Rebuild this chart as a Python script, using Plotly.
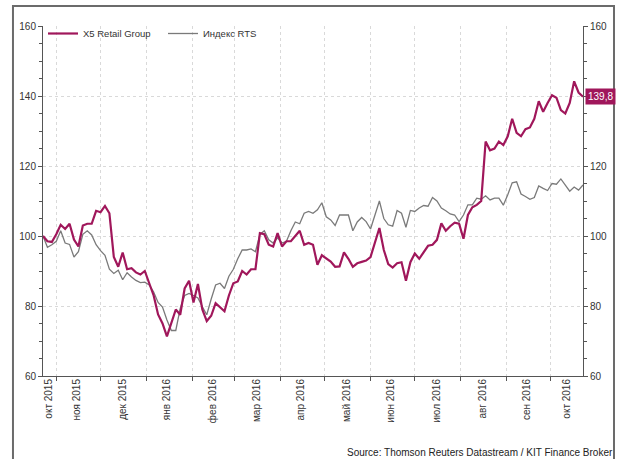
import pandas as pd
import plotly.graph_objects as go

# ---- data ----
dates = pd.date_range("2015-10-23", periods=123, freq="3D")

x5_retail = [
    100, 98.5, 98.3, 100.5, 103.2, 102.0, 103.5, 99.0, 97.0, 103.0,
    103.5, 103.5, 107.2, 106.8, 108.6, 106.5, 94, 91.2, 95.3, 90.5,
    90.8, 89.6, 89.0, 90.0, 86.5, 83, 77.6, 75, 71.3, 75,
    79, 77.5, 85, 87.2, 81, 86.3, 79, 75.7, 77.2, 80.8,
    79.5, 78.5, 83, 86.5, 87, 90, 89, 90.5, 90.5, 100.8,
    100.5, 97.5, 97, 100.8, 97, 98.5, 98.5, 100, 101.5, 97.5,
    98, 97.5, 91.8, 94.5, 93.5, 92.7, 91.2, 91.3, 95.3, 93.5,
    91.2, 92.2, 92.6, 93, 94, 98, 102.3, 96, 92, 91,
    92.2, 92.5, 87.2, 92.5, 95, 93.5, 95.5, 97.2, 97.5, 98.9,
    103.6, 101.5, 102.8, 103.8, 103.5, 99.2, 106, 108.2, 108.9, 110,
    127, 124.5, 125, 127, 126, 128.5, 133.5, 129.5, 128.5, 130.5,
    131, 133.5, 138.5, 135.5, 138, 140.2, 139.5, 136, 135, 138,
    144.2, 141, 139.8,
]

rts_index = [
    100, 96.8, 97.5, 98.5, 101.5, 98.0, 97.6, 94, 95.5, 100.5,
    101.5, 100.3, 97.5, 95.8, 94.5, 90.5, 89.3, 90.2, 87.5, 89.5,
    88.3, 87.3, 86.7, 86.8, 86, 84, 81, 79.7, 76, 73,
    73, 79.3, 83, 83.6, 83, 82.3, 79.8, 77.5, 82, 86,
    86.5, 85, 88.5, 90.5, 93.5, 96, 96, 96.3, 95.5, 100.5,
    101.5, 98.9, 98, 99.5, 98, 98.5, 101.5, 104, 103.5, 106.5,
    107, 106.5, 107.5, 109.5, 105.5, 104.6, 103, 106, 106, 106,
    101.5, 104, 105.3, 104.1, 102, 106, 110, 105, 103.2, 102.8,
    107.3, 106.5, 102.5, 107.3, 107, 108, 108.7, 108.5, 111, 110,
    108, 107.2, 106.3, 106, 104.1, 106, 108.9, 108.9, 110.8, 110.5,
    111.5, 110.3, 110.8, 110.8, 108.8, 111.8, 115.2, 115.5, 112, 111.3,
    110.5, 111, 114.3, 113.6, 113, 115, 114.8, 116.3, 114.5, 112.8,
    114, 113.1, 114.6,
]

month_ticks = ["2015-11-01", "2015-12-01", "2016-01-01", "2016-02-01", "2016-03-01",
               "2016-04-01", "2016-05-01", "2016-06-01", "2016-07-01", "2016-08-01",
               "2016-09-01", "2016-10-01"]
label_pos = ["2015-10-27", "2015-11-15", "2015-12-16", "2016-01-15", "2016-02-15",
             "2016-03-16", "2016-04-15", "2016-05-16", "2016-06-15", "2016-07-16",
             "2016-08-16", "2016-09-15", "2016-10-12"]
label_text = ["окт 2015", "ноя 2015", "дек 2015", "янв 2016", "фев 2016", "мар 2016",
              "апр 2016", "май 2016", "июн 2016", "июл 2016", "авг 2016", "сен 2016",
              "окт 2016"]
y_ticks = [60, 80, 100, 120, 140, 160]
y_ticktext_left = ["60", "80", "100", "120", "140", "160"]
y_ticktext_right = ["60", "80", "100", "120", "", "160"]  # 140 is covered by the value box
last_label = "139,8"

MAG = "#A0175B"
GRAY = "#7a7a7a"
AX = "#555555"
GRID = "#d9d9d9"
FONT = "Liberation Sans, Arial, sans-serif"
x_range = ["2015-10-23", "2016-10-23"]

fig = go.Figure()
fig.add_trace(go.Scatter(x=dates, y=x5_retail, name="X5 Retail Group", mode="lines",
                         line=dict(color=MAG, width=2.2), xaxis="x2", yaxis="y2"))
fig.add_trace(go.Scatter(x=dates, y=rts_index, name="Индекс RTS", mode="lines",
                         line=dict(color=GRAY, width=1.3), xaxis="x", yaxis="y"))

yax_common = dict(range=[60, 160], tickvals=y_ticks,
                  ticks="outside", ticklen=4, tickcolor=AX, showline=True,
                  linecolor=AX, linewidth=1, zeroline=False,
                  tickfont=dict(size=10, color="#333", family=FONT),
                  minor=dict(dtick=5, ticks="outside", ticklen=3, tickcolor=AX, showgrid=False))

fig.update_layout(
    width=623, height=459,
    margin=dict(l=43, r=40, t=26, b=83),
    paper_bgcolor="white", plot_bgcolor="white",
    font=dict(family=FONT, color="#333"),
    showlegend=True,
    legend=dict(orientation="h", x=0.0, y=1.02, xanchor="left", yanchor="top",
                bgcolor="rgba(0,0,0,0)", font=dict(size=9.5, color="#333", family=FONT),
                entrywidth=75, entrywidthmode="pixels", itemwidth=30),
    xaxis=dict(type="date", range=x_range, tickvals=month_ticks, showticklabels=False,
               ticks="outside", ticklen=4, tickcolor=AX, showline=True, linecolor=AX,
               linewidth=1, showgrid=True, gridcolor=GRID, griddash="dot", gridwidth=1,
               zeroline=False),
    xaxis2=dict(type="date", range=x_range, overlaying="x", side="bottom",
                tickvals=label_pos, ticktext=label_text, tickangle=-90, ticks="",
                showline=False, showgrid=False, zeroline=False,
                tickfont=dict(size=10, color="#333", family=FONT)),
    yaxis=dict(side="left", showgrid=True, gridcolor=GRID, griddash="dot", gridwidth=1,
               ticktext=y_ticktext_left, **yax_common),
    yaxis2=dict(side="right", overlaying="y", showgrid=False,
                ticktext=y_ticktext_right, **yax_common),
)

# outer frame
fig.add_shape(type="rect", xref="paper", yref="paper", x0=-0.0556, x1=1.0574,
              y0=-0.30, y1=1.0571, line=dict(color="#6b6b6b", width=2), layer="below")

# last value label
fig.add_annotation(xref="paper", yref="y2", x=1.0, y=x5_retail[-1], text=last_label,
                   showarrow=False, xanchor="left", yanchor="middle", xshift=2,
                   bgcolor=MAG, borderpad=2,
                   font=dict(size=10, color="white", family=FONT))

# source
fig.add_annotation(xref="paper", yref="paper", x=1.0593, y=-0.218,
                   text="Source: Thomson Reuters Datastream / KIT Finance Broker",
                   showarrow=False, xanchor="right", yanchor="middle",
                   font=dict(size=10, color="#222", family=FONT))

fig.write_html("out.html", config={"displayModeBar": False},
               post_script="document.body.style.margin='0';document.body.style.overflow='hidden';")
